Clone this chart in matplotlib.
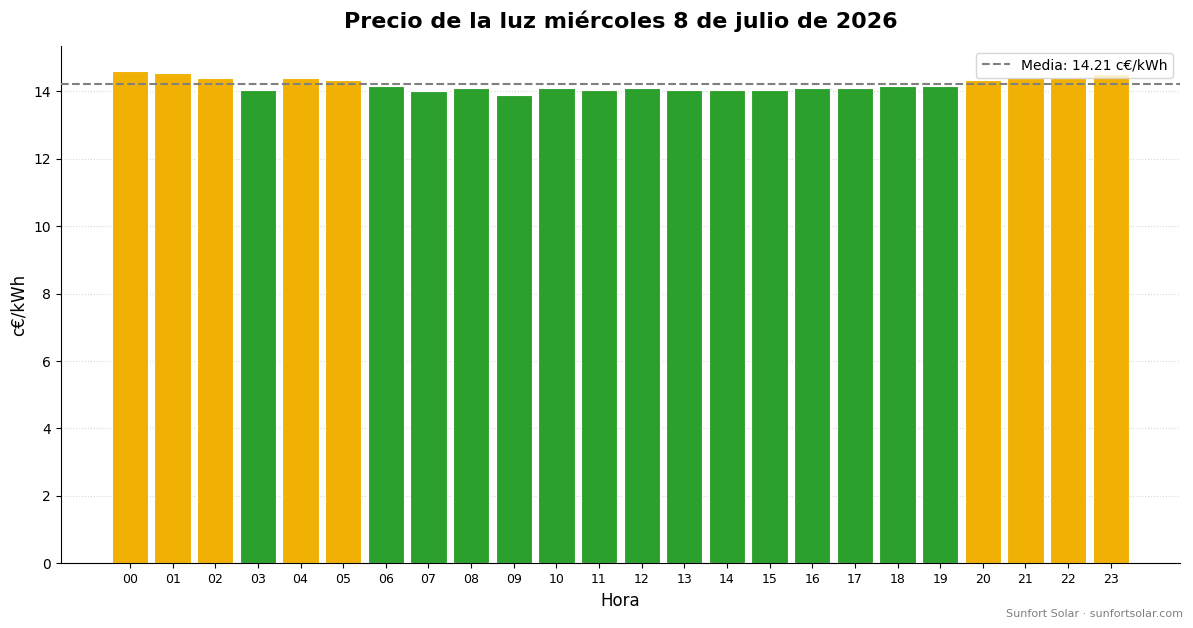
import matplotlib
matplotlib.use("Agg")
import matplotlib.pyplot as plt
import numpy as np

hours = [f"{h:02d}" for h in range(24)]
prices = [14.60, 14.54, 14.40, 14.04, 14.40, 14.34, 14.16, 14.01, 14.09, 13.90,
          14.09, 14.04, 14.09, 14.04, 14.04, 14.04, 14.09, 14.09, 14.16, 14.16,
          14.34, 14.41, 14.41, 14.50]

mean = float(np.mean(prices))
orange = "#F1B104"
green = "#2CA02C"
colors = [orange if p > mean else green for p in prices]

fig, ax = plt.subplots(figsize=(11.93, 6.28), dpi=100)
fig.subplots_adjust(left=0.051, right=0.989, top=0.927, bottom=0.103)

x = np.arange(len(hours))
ax.bar(x, prices, width=0.85, color=colors, edgecolor="white", linewidth=0.8, zorder=2)
ax.axhline(mean, color="gray", linestyle="--", linewidth=1.5,
           label=f"Media: {mean:.2f} c€/kWh", zorder=3)

ax.set_xticks(x)
ax.set_xticklabels(hours, fontsize=9)
ax.tick_params(axis="y", labelsize=10)
ax.set_xlim(-1.62, 24.62)
ax.set_ylim(0, 15.35)
ax.grid(axis="y", linestyle=":", color="#cccccc", alpha=0.8, zorder=0)
ax.set_axisbelow(True)
for s in ["top", "right"]:
    ax.spines[s].set_visible(False)

ax.set_title("Precio de la luz miércoles 8 de julio de 2026", fontsize=16, fontweight="bold", pad=13)
ax.set_xlabel("Hora", fontsize=12)
ax.set_ylabel("c€/kWh", fontsize=12)
ax.legend(loc="upper right", fontsize=10)

fig.text(0.992, 0.015, "Sunfort Solar · sunfortsolar.com", ha="right", va="bottom",
         fontsize=8, color="gray")

fig.savefig("out.png", dpi=100)
